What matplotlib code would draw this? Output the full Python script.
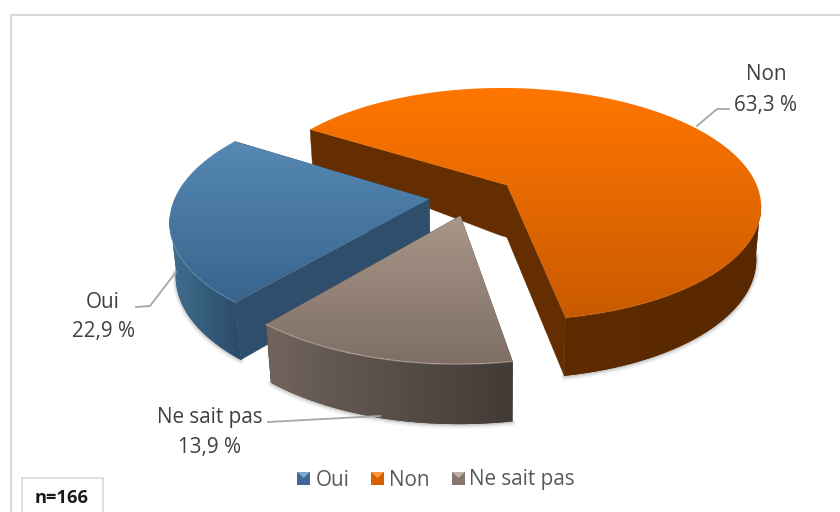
import numpy as np
import matplotlib
matplotlib.use("Agg")
import matplotlib.pyplot as plt
from matplotlib.colors import LinearSegmentedColormap, to_rgb
from matplotlib.patches import Polygon, Rectangle

categories = ["Oui", "Non", "Ne sait pas"]
values = [22.9, 63.3, 13.9]
value_labels = ["22,9 %", "63,3 %", "13,9 %"]
sample_note = "n=166"

TOP = {"Oui": ("#5689B4", "#38648C"), "Non": ("#FF7600", "#C95A00"), "Ne sait pas": ("#A99689", "#7E6E64")}
RIM = {"Oui": ("#41708F", "#2A4A68"), "Non": ("#5E2B00", "#592800"), "Ne sait pas": ("#70645C", "#423A35")}
FACE = {"Oui": "#2F4E6B", "Non": "#652E00", "Ne sait pas": "#5a5048"}
EDGE = {"Oui": ("#7FAAD0", 0.35), "Non": ("#FF9A40", 0.12), "Ne sait pas": ("#CFC2B8", 0.5)}
TEXT = "#404040"

# projection of the tilted pie (pixel axes)
CX, CY, RX, RY, PERSP, EXPLODE, START = 471.8, 196.1, 253.6, 116.6, 0.165, 0.17, np.radians(219.96)

plt.rcParams["font.family"] = ["Open Sans", "DejaVu Sans"]
fig = plt.figure(figsize=(8.4, 5.12), dpi=100, facecolor="white")
ax = fig.add_axes([0, 0, 1, 1])
ax.axis("off")


def proj(X, Y):
    w = 1 - PERSP * np.asarray(Y)
    return CX + RX * np.asarray(X) / w, CY + RY * np.asarray(Y) / w


def drop(x, y):
    d = np.interp(y, [128, 183, 360], [34, 52, 60])
    return x + (500 - x) * 0.02 * d / 57, y + d


def mix(c0, c1, t):
    a, b = np.array(to_rgb(c0)), np.array(to_rgb(c1))
    return a + (b - a) * t


z = 3
fractions = np.array(values) / sum(values) * 2 * np.pi
starts = START + np.concatenate([[0], np.cumsum(fractions)[:-1]])
for i in [1, 0, 2]:
    name = categories[i]
    st, en = starts[i], starts[i] + fractions[i]
    mid = (st + en) / 2
    ex, ey = EXPLODE * np.sin(mid), -EXPLODE * np.cos(mid)
    th = np.linspace(st, en, 400)
    rx_, ry_ = proj(ex + np.sin(th), ey - np.cos(th))
    ax_, ay_ = proj(ex, ey)
    # straight faces
    for end_th in (st, en):
        fx, fy = proj(ex + np.array([0, 1]) * np.sin(end_th), ey - np.array([0, 1]) * np.cos(end_th))
        tt = np.linspace(0, 1, 30)
        lx, ly = fx[0] + tt * (fx[1] - fx[0]), fy[0] + tt * (fy[1] - fy[0])
        bx, by = drop(lx, ly)
        ax.add_patch(Polygon(np.c_[np.r_[lx, bx[::-1]], np.r_[ly, by[::-1]]], closed=True,
                             facecolor=FACE[name], edgecolor=FACE[name], lw=0.3, zorder=z))
        z += 1
    # outer wall from the widest point of the rim round to the front, with soft shadow below
    vis = ry_ >= ry_[np.argmax(np.abs(rx_ - CX))] - 6
    vx, vy = rx_[vis], ry_[vis]
    bx, by = drop(vx, vy)
    for lw, al, off in ((5, 0.04, 1.5), (3, 0.07, 1), (1.5, 0.10, 0.5)):
        ax.plot(bx, by + off, color="#000000", lw=lw, alpha=al, zorder=z, solid_capstyle="round")
    z += 1
    wall = Polygon(np.c_[np.r_[vx, bx[::-1]], np.r_[vy, by[::-1]]], closed=True,
                   facecolor=RIM[name][1], edgecolor="none", zorder=z)
    ax.add_patch(wall)
    cmap = LinearSegmentedColormap.from_list(name + "r", RIM[name])
    wim = ax.imshow(np.linspace(0, 1, 256)[None, :], cmap=cmap, aspect="auto", zorder=z,
                    extent=(min(vx.min(), bx.min()), max(vx.max(), bx.max()), by.max() + 1, vy.min() - 1),
                    interpolation="bilinear")
    wim.set_clip_path(wall)
    z += 1
    # top surface with vertical gradient
    px = np.concatenate([[ax_], rx_])
    py = np.concatenate([[ay_], ry_])
    poly = Polygon(np.c_[px, py], closed=True, facecolor="none", edgecolor="none", zorder=z)
    ax.add_patch(poly)
    cmap = LinearSegmentedColormap.from_list(name, TOP[name])
    ymin, ymax = py.min(), py.max()
    im = ax.imshow(np.linspace(0, 1, 256)[:, None], cmap=cmap, aspect="auto", zorder=z,
                   extent=(px.min(), px.max(), ymax, ymin), interpolation="bilinear")
    im.set_clip_path(poly)
    z += 1
    front = ry_ > ay_ + 0.3 * (ymax - ay_)
    ax.plot(rx_[front], ry_[front], color=EDGE[name][0], lw=1.0, alpha=EDGE[name][1], zorder=z)
    z += 1

ax.set_xlim(0, 840)
ax.set_ylim(512, 0)

# chart frame
ax.plot([11, 11, 840], [512, 15, 15], color="#D9D9D9", lw=1.5, zorder=1, solid_joinstyle="miter")

# leader lines
leader = "#A6A6A6"
ax.plot([697, 717, 729], [126, 109, 109], color=leader, lw=1.3, zorder=60)
ax.plot([176, 150, 136], [272, 306, 307], color=leader, lw=1.3, zorder=60)
ax.plot([380, 268], [416, 422], color=leader, lw=1.3, zorder=60)

# data labels
fs = 14.9
for name, val, (tx, ty1, ty2) in zip(categories, value_labels,
                                     [(103, 302, 332), (766, 75, 106), (210, 417.5, 447)]):
    ax.text(tx, ty1, name, ha="center", va="center", fontsize=fs, color=TEXT, zorder=61)
    ax.text(tx, ty2, val, ha="center", va="center", fontsize=fs, color=TEXT, zorder=61)

# legend
for name, sx, tx in zip(categories, [297, 371, 452], [316, 389, 469]):
    c0, c1 = TOP[name]
    ax.add_patch(Rectangle((sx, 472), 13, 13, facecolor=mix(c0, c1, 0.8), edgecolor="none", zorder=61))
    ax.add_patch(Polygon([(sx, 472), (sx + 13, 472), (sx + 6.5, 478)], closed=True,
                         facecolor=mix(c0, "#FFFFFF", 0.25), edgecolor="none", zorder=62))
    ax.text(tx, 480, name, ha="left", va="center", fontsize=fs, color="#595959", zorder=61)

# sample size box
ax.add_patch(Rectangle((22, 478), 81, 40, facecolor="white", edgecolor="#D9D9D9", lw=1.2, zorder=63))
ax.text(62, 498, sample_note, ha="center", va="center", fontsize=13.2, fontweight="bold",
        color="#1a1a1a", zorder=64)

fig.savefig("out.png", dpi=100, facecolor="white")
